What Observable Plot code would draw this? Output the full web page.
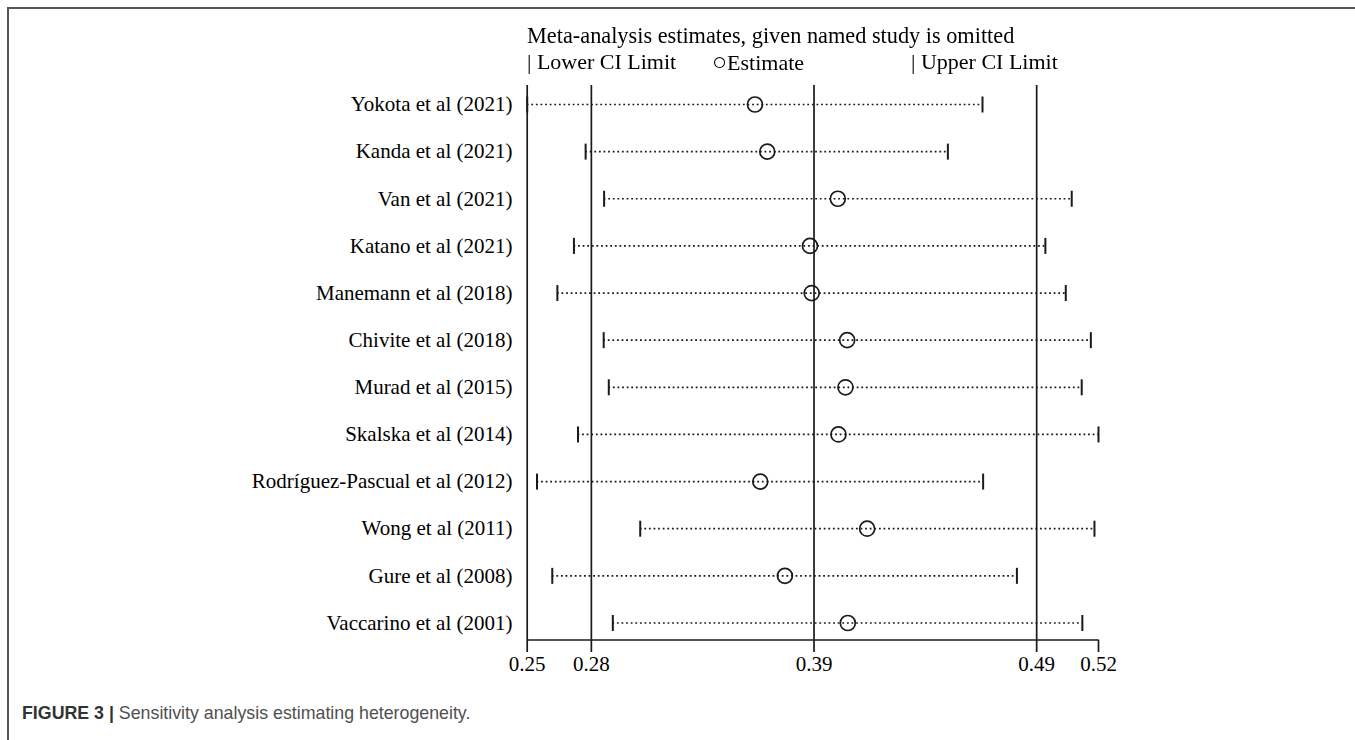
<!DOCTYPE html>
<html>
<head>
<meta charset="utf-8">
<script src="https://cdn.jsdelivr.net/npm/d3@7"></script>
<script src="https://cdn.jsdelivr.net/npm/@observablehq/plot@0.6"></script>
<style>
  html, body { margin: 0; padding: 0; background: #fff; }
  #page { position: relative; width: 1355px; height: 740px; overflow: hidden; background: #fff; }
  .frame { position: absolute; left: 7px; top: 7px; width: 1360px; height: 760px; border-top: 2px solid #555; border-left: 2px solid #555; }
  .serif { font-family: "Liberation Serif", "Times New Roman", serif; color: #000; white-space: nowrap; will-change: transform; }
  #title { position: absolute; left: 527px; top: 25px; font-size: 22.3px; line-height: 22px; }
  .leg { position: absolute; top: 51px; font-size: 22px; line-height: 22px; }
  .leg .sym { font-size: 25px; }
  #chart { position: absolute; left: 0; top: 80px; }
  #caption { position: absolute; left: 22px; top: 703px; font-family: "Liberation Sans", Arial, sans-serif; font-size: 17.8px; line-height: 20px; color: #505050; white-space: nowrap; }
  #caption b { color: #333; }
</style>
</head>
<body>
<div id="page">
  <div class="frame"></div>
  <div id="title" class="serif"></div>
  <div id="legend"></div>
  <div id="chart"></div>
  <div id="caption"><b>FIGURE 3 |</b> Sensitivity analysis estimating heterogeneity.</div>
</div>
<script>
// ---- data ----
const studies = [
  "Yokota et al (2021)",
  "Kanda et al (2021)",
  "Van et al (2021)",
  "Katano et al (2021)",
  "Manemann et al (2018)",
  "Chivite et al (2018)",
  "Murad et al (2015)",
  "Skalska et al (2014)",
  "Rodríguez-Pascual et al (2012)",
  "Wong et al (2011)",
  "Gure et al (2008)",
  "Vaccarino et al (2001)"
];
const lowerCI  = [0.2517, 0.2792, 0.2879, 0.2737, 0.2659, 0.2877, 0.2901, 0.2756, 0.2563, 0.3049, 0.2635, 0.2920];
const estimate = [0.3589, 0.3647, 0.3979, 0.3848, 0.3856, 0.4023, 0.4015, 0.3982, 0.3614, 0.4117, 0.3730, 0.4026];
const upperCI  = [0.4660, 0.4497, 0.5080, 0.4956, 0.5052, 0.5170, 0.5127, 0.5206, 0.4663, 0.5187, 0.4822, 0.5130];
// overall pooled estimate: lower CI, estimate, upper CI
const overall = [0.2819, 0.3867, 0.4915];
const titleText = "Meta-analysis estimates, given named study is omitted";
const legendSymbols = ["|", "\u25CB", "|"];
const legendLabels = [" Lower CI Limit", "Estimate", " Upper CI Limit"];

// ---- layout ----
document.getElementById("title").textContent = titleText;
const legendX = [527, 712, 911];
const legendDiv = document.getElementById("legend");
legendLabels.forEach((t, k) => {
  const s = document.createElement("div");
  s.className = "leg serif";
  s.style.left = legendX[k] + "px";
  const sym = document.createElement("span");
  if (legendSymbols[k] !== "|") sym.className = "sym";
  sym.textContent = legendSymbols[k];
  s.appendChild(sym);
  s.appendChild(document.createTextNode(t));
  legendDiv.appendChild(s);
});

const rows = studies.map((s, i) => ({i, study: s, lower: lowerCI[i], est: estimate[i], upper: upperCI[i]}));
const xMin = d3.min(lowerCI), xMax = d3.max(upperCI);
const tickValues = [xMin, ...overall, xMax];
const yDom = [-0.403, 11.361];

const vbar = {
  draw(ctx, size) {
    const h = Math.sqrt(size / Math.PI);
    ctx.moveTo(0, -h);
    ctx.lineTo(0, h);
  }
};

const ink = "#1a1a1a";
const chart = Plot.plot({
  width: 1355,
  height: 610,
  marginLeft: 526.7,
  marginRight: 257,
  marginTop: 5,
  marginBottom: 50.5,
  x: {domain: [xMin, xMax], label: null},
  y: {domain: yDom, reverse: true, label: null},
  style: {fontFamily: "'Liberation Serif', 'Times New Roman', serif", fontSize: "21px", color: "#000", background: "transparent", overflow: "visible"},
  marks: [
    Plot.ruleX(tickValues.slice(0, 4), {stroke: ink, strokeWidth: 1.7}),
    Plot.ruleY([yDom[1]], {x1: xMin, x2: xMax, stroke: ink, strokeWidth: 1.7}),
    Plot.ruleY(rows, {y: "i", x1: "lower", x2: "upper", stroke: ink, strokeWidth: 1.7, strokeDasharray: "1.8,2.8"}),
    Plot.dot(rows, {x: "lower", y: "i", symbol: vbar, r: 8, stroke: ink, strokeWidth: 2}),
    Plot.dot(rows, {x: "upper", y: "i", symbol: vbar, r: 8, stroke: ink, strokeWidth: 2}),
    Plot.dot(rows, {x: "est", y: "i", r: 7.5, stroke: ink, fill: "none", strokeWidth: 1.7}),
    Plot.axisX({ticks: tickValues, tickFormat: d3.format(".2f"), tickSize: 12.5, tickPadding: 4, stroke: ink, strokeWidth: 1.7, fontSize: 21, fill: "#000", label: null}),
    Plot.axisY({ticks: rows.map(d => d.i), tickFormat: i => studies[i], tickSize: 0, tickPadding: 14.7, fontSize: 21, fill: "#000", label: null})
  ]
});
document.getElementById("chart").appendChild(chart);
</script>
</body>
</html>
